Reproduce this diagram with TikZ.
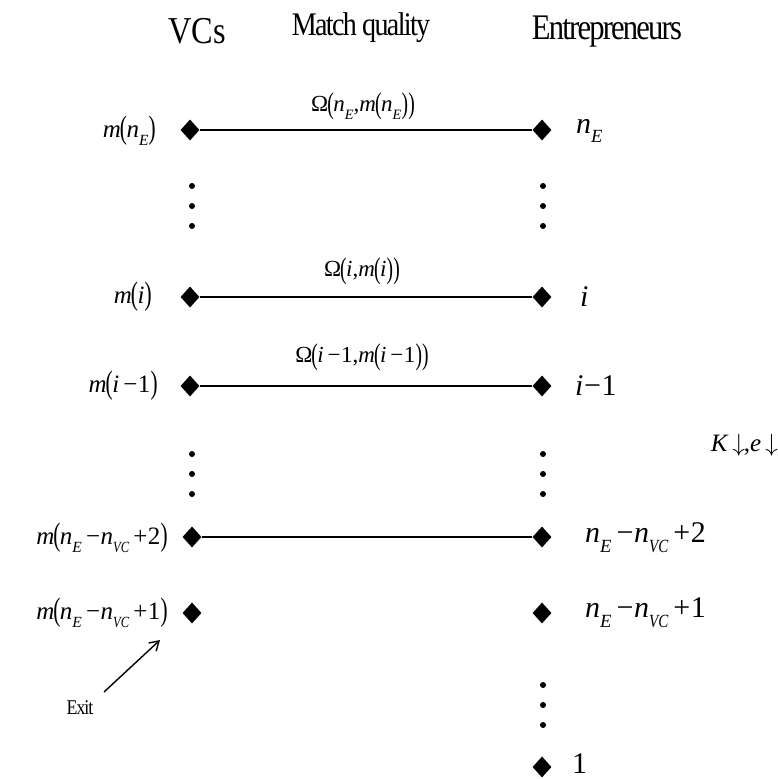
\documentclass[tikz,border=0pt]{standalone}
\usepackage{fontspec}
\setmainfont{Liberation Serif}
\newfontfamily\condfont[FakeStretch=0.85,LetterSpace=-5]{Liberation Serif}
\newfontfamily\vcfont[FakeStretch=0.85]{Liberation Serif}
\usepackage{graphicx}
\usetikzlibrary{shapes.geometric,arrows.meta}
\newcommand\vi[1]{\textit{#1}}
\newcommand\subx[1]{\raisebox{-0.32em}{\scalebox{0.62}{\textit{#1}}}}
\newcommand\subvc{\raisebox{-0.32em}{\scalebox{0.5}[0.62]{\textit{VC}}}}
\newcommand\lp{\kern-0.04em\raisebox{-0.06em}{\scalebox{0.85}[1.3]{(}}\kern-0.02em}
\newcommand\rp{\kern0.01em\raisebox{-0.06em}{\scalebox{0.85}[1.3]{)}}}
\newcommand\mn{\,−\kern0.02em}
\newcommand\pl{\,+\kern0.02em}
\tikzset{
  x=1pt, y=-1pt,
  dia/.style={diamond, fill=black, inner sep=0pt, minimum width=19pt, minimum height=21pt},
  dotn/.style={circle, fill=black, inner sep=0pt, minimum size=6pt},
  link/.style={line width=2.5pt},
  hdr/.style={inner sep=0pt, font=\fontsize{36}{36}\condfont},
  llab/.style={inner sep=0pt, font=\fontsize{25}{25}\selectfont, anchor=east},
  rlab/.style={inner sep=0pt, font=\fontsize{30}{30}\selectfont, anchor=west},
  omg/.style={inner sep=0pt, font=\fontsize{23}{23}\selectfont},
}
\begin{document}
\begin{tikzpicture}
\useasboundingbox (0,0) rectangle (778,779);
% headers
\node[hdr, font=\fontsize{38}{38}\vcfont] (hvc) at (197,31) {VCs};
\node[hdr, font=\fontsize{33}{33}\condfont] (hmq) at (361,28) {Match quality};
\node[hdr] (hen) at (607,32) {Entrepreneurs};
% left diamonds
\node[dia] (L1) at (190,130) {};
\node[dia] (L2) at (190,297) {};
\node[dia] (L3) at (190,386) {};
\node[dia] (L4) at (192,537) {};
\node[dia] (L5) at (192,613) {};
% right diamonds
\node[dia] (R1) at (542,130) {};
\node[dia] (R2) at (542,297) {};
\node[dia] (R3) at (542,386) {};
\node[dia] (R4) at (542,537) {};
\node[dia] (R5) at (542,613) {};
\node[dia] (R6) at (542,767) {};
% dots
\foreach \n/\x/\y in {a1/192/186,a2/192/206,a3/192/226,b1/543/186,b2/543/206,b3/543/226,
  c1/192/454,c2/192/474,c3/192/494,d1/543/454,d2/543/474,d3/543/494,
  e1/543/685,e2/543/705,e3/543/725}
  \node[dotn] (\n) at (\x,\y) {};
% links
\draw[link] (L1) -- (R1);
\draw[link] (L2) -- (R2);
\draw[link] (L3) -- (R3);
\draw[link] (L4) -- (R4);
% omega labels
\node[omg] (o1) at (363,106) {Ω\lp\vi{n}\subx{E},\vi{m}\lp\vi{n}\subx{E}\rp\rp};
\node[omg] (o2) at (362,271) {Ω\lp\vi{i},\vi{m}\lp\vi{i}\rp\rp};
\node[omg] (o3) at (362,357) {Ω\lp\vi{i}\mn1,\vi{m}\lp\vi{i}\mn1\rp\rp};
% left labels
\node[llab] (l1) at (156,131) {\vi{m}\lp\vi{n}\subx{E}\rp};
\node[llab] (l2) at (152,297) {\vi{m}\lp\vi{i}\rp};
\node[llab] (l3) at (158,386) {\vi{m}\lp\vi{i}\mn1\rp};
\node[llab] (l4) at (168,538) {\vi{m}\lp\vi{n}\subx{E}\mn\vi{n}\subvc\pl2\rp};
\node[llab] (l5) at (168,613) {\vi{m}\lp\vi{n}\subx{E}\mn\vi{n}\subvc\pl1\rp};
% right labels
\node[rlab] (r1) at (576,131) {\vi{n}\subx{E}};
\node[rlab] (r2) at (580,297) {\vi{i}};
\node[rlab] (r3) at (575,386) {\vi{i}\kern0.02em−\kern0.02em1};
\node[rlab] (r4) at (585,538) {\vi{n}\subx{E}\mn\vi{n}\subvc\pl2};
\node[rlab] (r5) at (585,613) {\vi{n}\subx{E}\mn\vi{n}\subvc\pl1};
\node[rlab] (r6) at (572,764) {1};
% K, e
\node[inner sep=0pt, font=\fontsize{25}{25}\selectfont, anchor=east] (ke) at (778,445) {\vi{K}\,$\downarrow$\kern-0.05em,\vi{e}\,$\downarrow$};
% exit
\node[inner sep=0pt, font=\fontsize{21}{21}\condfont] (exit) at (80,708) {Exit};
\coordinate (ea) at (104,692);
\coordinate (eb) at (160,640);
\draw[line width=1.4pt, -{Straight Barb[length=9pt,width=11pt]}] (ea) -- (eb);
\end{tikzpicture}
\end{document}
